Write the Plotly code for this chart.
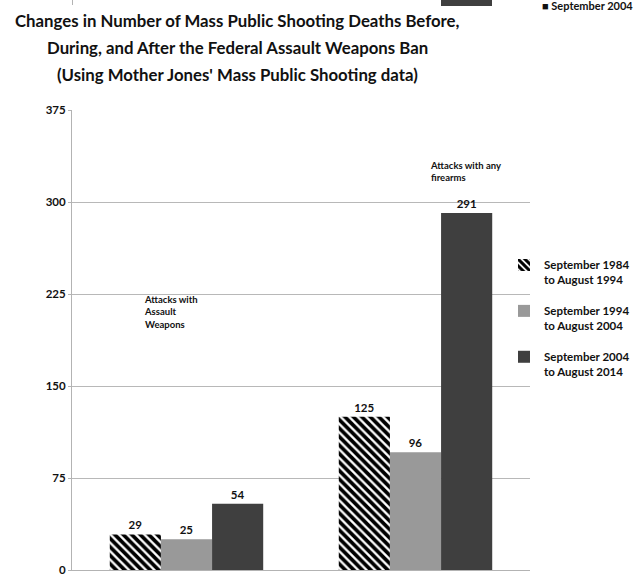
import plotly.graph_objects as go

# Deaths per period, grouped by attack type
categories = ["Attacks with Assault Weapons", "Attacks with any firearms"]
period_names = [
    "September 1984<br>to August 1994",
    "September 1994<br>to August 2004",
    "September 2004<br>to August 2014",
]
deaths_1984_1994 = [29, 125]
deaths_1994_2004 = [25, 96]
deaths_2004_2014 = [54, 291]
y_ticks = [0, 75, 150, 225, 300, 375]

title_lines = [
    "Changes in Number of Mass Public Shooting Deaths Before,",
    "During, and After the Federal Assault Weapons Ban",
    "(Using Mother Jones' Mass Public Shooting data)",
]
group_notes = ["Attacks with<br>Assault<br>Weapons", "Attacks with any<br>firearms"]

FONT = "Lato"
W, H = 636, 577
L, R, T, B = 72, 106, 110, 7


def px_x(px):
    return (px - L) / (W - L - R)


def px_y(py):
    return (H - B - py) / (H - T - B)


label_font = dict(family=FONT, size=11.5, color="#111111", weight="bold")

fig = go.Figure()
fig.add_trace(go.Bar(
    x=categories, y=deaths_1984_1994, name=period_names[0],
    marker=dict(color="white", line=dict(width=0),
                pattern=dict(shape="\\", fgcolor="#000000", bgcolor="white",
                             size=6, solidity=0.62, fgopacity=1)),
    text=deaths_1984_1994, textposition="outside", textfont=label_font,
    cliponaxis=False, legendgroup="a",
))
fig.add_trace(go.Bar(
    x=categories, y=deaths_1994_2004, name=period_names[1],
    marker=dict(color="#999999", line=dict(width=0)),
    text=deaths_1994_2004, textposition="outside", textfont=label_font,
    cliponaxis=False, legendgroup="b",
))
fig.add_trace(go.Bar(
    x=categories, y=deaths_2004_2014, name=period_names[2],
    marker=dict(color="#3f3f3f", line=dict(width=0)),
    text=deaths_2004_2014, textposition="outside", textfont=label_font,
    cliponaxis=False, legendgroup="c",
))

annotations = []
title_y = [20, 47, 74]
for line, ty in zip(title_lines, title_y):
    annotations.append(dict(
        text=line, xref="paper", yref="paper", x=px_x(237), y=px_y(ty),
        xanchor="center", yanchor="middle", showarrow=False,
        font=dict(family=FONT, size=16.8, color="#111111", weight="bold"),
    ))

# notes naming each group of bars
annotations.append(dict(
    text=group_notes[0], xref="paper", yref="y", x=px_x(142), y=210,
    xanchor="left", yanchor="middle", align="left", showarrow=False,
    font=dict(family=FONT, size=9.5, color="#111111", weight="bold"),
))
annotations.append(dict(
    text=group_notes[1], xref="paper", yref="y", x=px_x(428), y=325,
    xanchor="left", yanchor="middle", align="left", showarrow=False,
    font=dict(family=FONT, size=9.5, color="#111111", weight="bold"),
))

# edge of the preceding panel along the top
annotations.append(dict(
    text="■ September 2004", xref="paper", yref="paper", x=px_x(540), y=px_y(6),
    xanchor="left", yanchor="middle", showarrow=False,
    font=dict(family=FONT, size=11, color="#111111", weight="bold"),
))
shapes = [
    dict(type="rect", xref="paper", yref="paper", x0=px_x(441), x1=px_x(492),
         y0=px_y(6), y1=px_y(-2), fillcolor="#3f3f3f", line=dict(width=0)),
    dict(type="line", xref="paper", yref="paper", x0=px_x(72.5), x1=px_x(72.5),
         y0=px_y(5), y1=px_y(-2), line=dict(color="#b3b3b3", width=1)),
]

fig.update_layout(
    width=W, height=H,
    margin=dict(l=L, r=R, t=T, b=B, pad=0, autoexpand=False),
    paper_bgcolor="white", plot_bgcolor="white",
    barmode="group", bargap=0.33, bargroupgap=0,
    showlegend=True,
    legend=dict(
        x=px_x(504), y=px_y(251), xanchor="left", yanchor="top",
        font=dict(family=FONT, size=11.5, color="#111111", weight="bold"),
        bgcolor="rgba(0,0,0,0)", traceorder="grouped", tracegroupgap=13,
        valign="top",
    ),
    xaxis=dict(
        showticklabels=False, ticks="", showgrid=False,
        showline=True, linecolor="#b3b3b3", linewidth=1, automargin=False,
    ),
    yaxis=dict(
        range=[0, 375], tickvals=y_ticks, ticktext=[str(v) for v in y_ticks],
        showgrid=True, gridcolor="#b8b8b8", gridwidth=1,
        showline=True, linecolor="#b3b3b3", linewidth=1,
        ticks="outside", ticklen=3, tickcolor="#b3b3b3",
        zeroline=False, automargin=False,
        tickfont=dict(family=FONT, size=11.5, color="#111111", weight="bold"),
    ),
    annotations=annotations,
    shapes=shapes,
    font=dict(family=FONT),
)

fig.write_html("out.html")
